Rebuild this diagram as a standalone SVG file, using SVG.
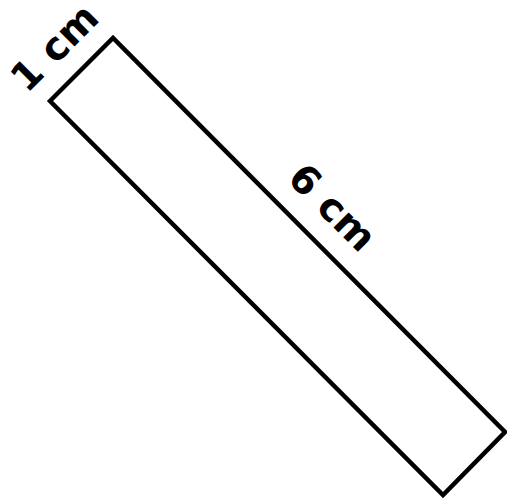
<svg xmlns="http://www.w3.org/2000/svg" width="507" height="502" viewBox="0 0 507 502">
<style>
.lbl{font-family:"DejaVu Sans","Liberation Sans",Arial,sans-serif;font-weight:bold;font-size:39px;fill:#000;text-anchor:middle}
.shape{fill:#fff;stroke:#000;stroke-width:4.5;stroke-linejoin:miter}
</style>
<rect width="507" height="502" fill="#fff"/>
<g id="rectangle">
<polygon class="shape" points="50,101 113,38 505,432 443,495"/>
</g>
<g id="labels">
<text class="lbl" transform="translate(64,57) rotate(-45)">1 cm</text>
<text class="lbl" transform="translate(323,217) rotate(45)">6 cm</text>
</g>
</svg>
